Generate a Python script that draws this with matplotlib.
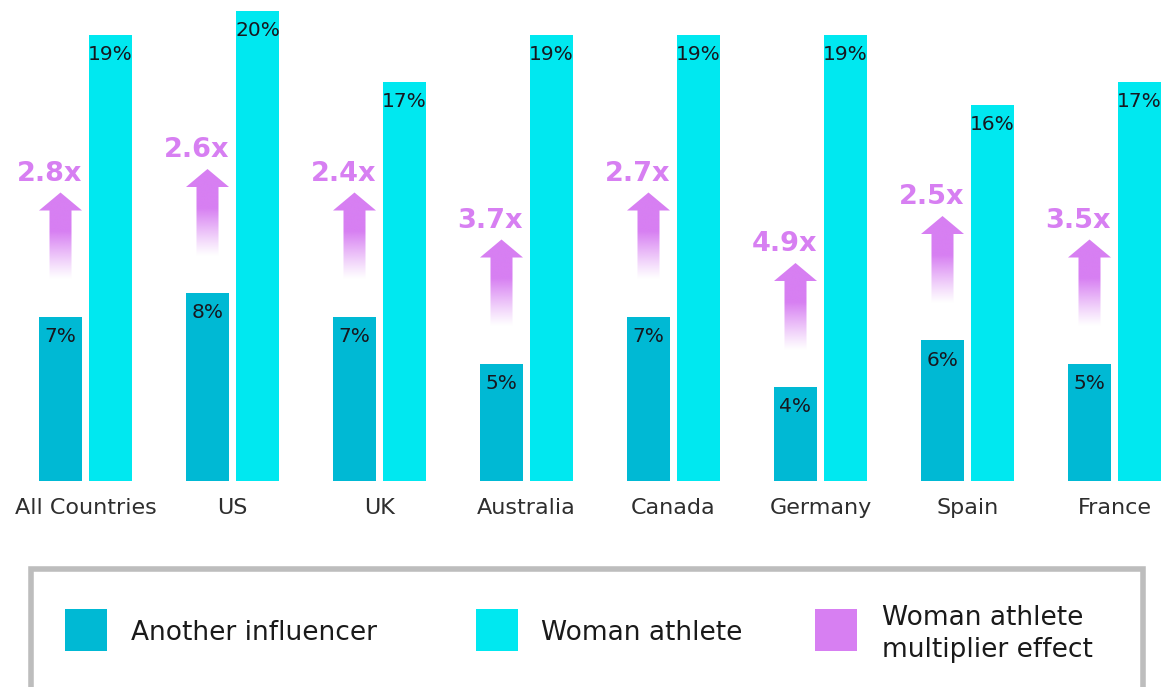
import numpy as np
import matplotlib
matplotlib.use("Agg")
import matplotlib.pyplot as plt
from matplotlib.patches import Rectangle, Polygon
from matplotlib.colors import to_rgb

# ---------------- data ----------------
categories = ["All Countries", "US", "UK", "Australia", "Canada", "Germany", "Spain", "France"]
another_influencer = [7, 8, 7, 5, 7, 4, 6, 5]
woman_athlete = [19, 20, 17, 19, 19, 19, 16, 17]
multiplier = ["2.8x", "2.6x", "2.4x", "3.7x", "2.7x", "4.9x", "2.5x", "3.5x"]
legend_labels = ["Another influencer", "Woman athlete", "Woman athlete\nmultiplier effect"]

# ---------------- style ----------------
DARK = "#00B9D4"
LIGHT = "#00E8F0"
PINK = "#D77FF2"
TXT = "#17171F"
plt.rcParams["font.family"] = ["DejaVu Sans"]

W, H = 1169, 687
fig = plt.figure(figsize=(W / 100, H / 100), dpi=100)
fig.patch.set_facecolor("white")

base_px = 481.0      # baseline of bars (pixels from top)
ppu = 23.5           # pixels per percentage point
pitch = 147.0        # pixels per category
ax = fig.add_axes([0, 1 - base_px / H, 1, base_px / H])
ax.set_facecolor("white")
px_x = 1 / pitch
px_y = 1 / ppu

x = np.arange(len(categories))
bw = 43 * px_x
off = 25 * px_x

ax.bar(x - off, another_influencer, width=bw, color=DARK, zorder=2)
ax.bar(x + off, woman_athlete, width=bw, color=LIGHT, zorder=2)

# value labels
for i, v in enumerate(another_influencer):
    ax.text(i - off, v - 25.5 * px_y, f"{v}%", ha="center", va="baseline",
            fontsize=14.5, color=TXT, zorder=4)
for i, v in enumerate(woman_athlete):
    ax.text(i + off, v - 25.5 * px_y, f"{v}%", ha="center", va="baseline",
            fontsize=14.5, color=TXT, zorder=4)

# gradient arrows + multiplier labels
rgb = to_rgb(PINK)
n = 300
t = np.linspace(0, 1, n)
alpha = np.clip(t / 0.55, 0, 1) ** 1.1
grad = np.zeros((n, 1, 4))
grad[:, 0, 0], grad[:, 0, 1], grad[:, 0, 2] = rgb
grad[:, 0, 3] = alpha

for i, v in enumerate(another_influencer):
    cx = i - off
    yb = v + 37 * px_y
    yt = v + 124 * px_y
    yh = yt - 18 * px_y
    hw = bw / 2
    sw = 11 * px_x
    verts = [(cx - sw, yb), (cx + sw, yb), (cx + sw, yh), (cx + hw, yh),
             (cx, yt), (cx - hw, yh), (cx - sw, yh)]
    poly = Polygon(verts, closed=True, facecolor="none", edgecolor="none",
                   transform=ax.transData)
    ax.add_patch(poly)
    im = ax.imshow(grad, extent=[cx - hw, cx + hw, yb, yt], origin="lower",
                   aspect="auto", interpolation="bilinear", zorder=3)
    im.set_clip_path(poly)
    ax.text(cx + hw, yt + 12 * px_y, multiplier[i], ha="right", va="baseline",
            fontsize=19.5, fontweight="bold", color=PINK, zorder=4)

ax.set_xlim(-85.5 / pitch, (W - 85.5) / pitch)
ax.set_ylim(0, base_px / ppu)
ax.set_xticks(x, categories)
ax.tick_params(axis="x", length=0, pad=23.8, labelsize=16, labelcolor="#2E2E2E")
for lbl in ax.get_xticklabels():
    lbl.set_va("baseline")
ax.set_yticks([])
for s in ax.spines.values():
    s.set_visible(False)

# ---------------- legend box ----------------
def fx(px):
    return px / W


def fy(py):
    return 1 - py / H


fig.add_artist(Rectangle((fx(30.5), fy(720)), fx(1142.5) - fx(30.5), fy(569) - fy(720),
                         transform=fig.transFigure, fill=False,
                         edgecolor="#BDBDBD", linewidth=4))

legend_colors = [DARK, LIGHT, PINK]
sq_x = [65, 476, 815]
txt_x = [131, 541, 882]
for lab, col, sx, tx in zip(legend_labels, legend_colors, sq_x, txt_x):
    fig.add_artist(Rectangle((fx(sx), fy(651)), 42 / W, 42 / H,
                             transform=fig.transFigure, facecolor=col,
                             edgecolor="none"))
    if "\n" in lab:
        fig.text(fx(tx), fy(657), lab, fontsize=19, va="baseline", ha="left",
                 color="#1A1A1A", linespacing=1.3)
    else:
        fig.text(fx(tx), fy(640), lab, fontsize=19, va="baseline", ha="left",
                 color="#1A1A1A")

fig.savefig("out.png", dpi=100, facecolor="white")
